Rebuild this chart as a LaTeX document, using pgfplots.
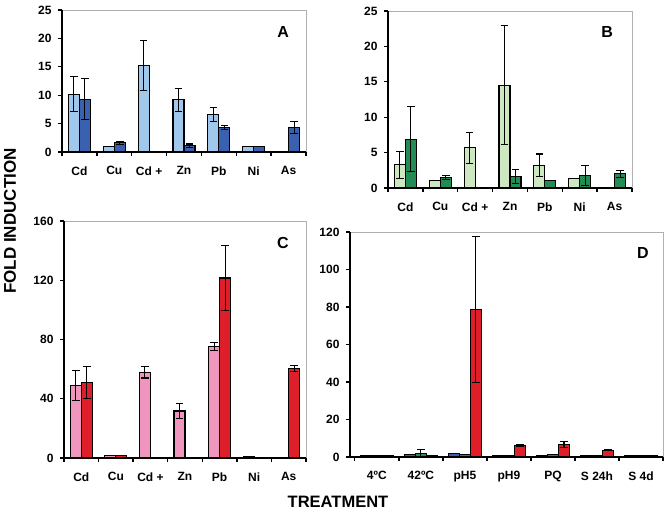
\documentclass[border=0pt]{standalone}
\usepackage{pgfplots}
\usepackage{pgfplotstable}
\pgfplotsset{compat=1.18}
\usepackage{fontspec}
\setmainfont{Liberation Sans}
\definecolor{lblue}{RGB}{160,200,236}
\definecolor{dblue}{RGB}{58,96,176}
\definecolor{lgreen}{RGB}{205,232,192}
\definecolor{dgreen}{RGB}{34,140,84}
\definecolor{lpink}{RGB}{240,150,190}
\definecolor{dred}{RGB}{222,30,40}
\definecolor{framegray}{RGB}{175,175,175}

\pgfplotstableread{
x light errL dark errD
0 10.2 3.1 9.3 3.6
1 1.0 0 1.6 0.3
2 15.2 4.4 nan 0
3 9.2 2.0 1.1 0.3
4 6.6 1.2 4.3 0.3
5 1.0 0 1.0 0
6 nan 0 4.3 1.1
}\tabA
\pgfplotstableread{
x light errL dark errD
0 3.3 1.9 6.9 4.6
1 1.1 0 1.5 0.3
2 5.7 2.2 nan 0
3 14.5 8.4 1.6 1.0
4 3.2 1.6 1.0 0
5 1.4 0 1.8 1.4
6 nan 0 2.0 0.5
}\tabB
\pgfplotstableread{
x light errL dark errD
0 49 9.9 51 11
1 1.8 0 1.6 0
2 58 4 nan 0
3 31.7 5 0.3 0
4 75.4 2.7 121.5 22
5 1.1 0 0.5 0
6 nan 0 60.3 2
}\tabC
\pgfplotstableread{
x blue errB green errG red errR
0 0.8 0 0.8 0 0.8 0
1 1.2 0 2.0 2.0 1.0 0
2 2.0 0 1.5 0 78.5 39
3 0.6 0 0.6 0 6.2 0.6
4 0.7 0 1.2 0 6.8 1.6
5 0.6 0 0.6 0 3.6 0.3
6 0.6 0 0.6 0 0.6 0
}\tabD

\pgfplotsset{
  panel/.style={
    scale only axis,
    anchor=south west,
    ybar=0pt,
    bar width=11pt,
    ymin=0,
    xmin=-0.5, xmax=6.5,
    axis line style={draw=none},
    xtick={-0.5,0.5,...,6.5},
    xticklabels={},
    extra x ticks={0,1,2,3,4,5,6},
    extra x tick style={major tick length=0pt, xticklabel style={yshift=-11pt}},
    tick style={black, line width=1.3pt},
    major tick length=4pt,
    tick align=outside,
    tick pos=left,
    ticklabel style={font=\bfseries\fontsize{12}{14}\selectfont},
    yticklabel style={xshift=-3pt},
    /pgf/number format/assume math mode=true,
    every axis plot/.append style={draw=black, line width=1.1pt},
    error bars/y dir=both,
    error bars/y explicit,
    error bars/error bar style={black, line width=1.1pt},
    error bars/error mark options={rotate=90, black, mark size=3.8pt, line width=1.1pt},
    clip=false,
  },
}
\newcommand{\panelframe}{%
  \draw[framegray, line width=0.6pt] (rel axis cs:0,1) -- (rel axis cs:1,1) -- (rel axis cs:1,0);
  \draw[black, line width=1.7pt] (rel axis cs:0,1) -- (rel axis cs:0,0) -- (rel axis cs:1,0);
}

\begin{document}
\begin{tikzpicture}
% Panel A
\begin{axis}[panel, at={(62pt,359pt)}, width=244pt, height=142pt,
  ymax=25, ytick={0,5,10,15,20,25},
  extra x tick labels={Cd,Cu,Cd +,Zn,Pb,Ni,As}]
\addplot[fill=lblue] table[x=x, y=light, y error=errL] {\tabA};
\addplot[fill=dblue] table[x=x, y=dark, y error=errD] {\tabA};
\panelframe
\node[font=\bfseries\fontsize{16}{18}\selectfont] at (rel axis cs:0.906,0.845) {A};
\end{axis}
% Panel B
\begin{axis}[panel, at={(388pt,323pt)}, width=244pt, height=177pt,
  ymax=25, ytick={0,5,10,15,20,25},
  extra x tick labels={Cd,Cu,Cd +,Zn,Pb,Ni,As}]
\addplot[fill=lgreen] table[x=x, y=light, y error=errL] {\tabB};
\addplot[fill=dgreen] table[x=x, y=dark, y error=errD] {\tabB};
\panelframe
\node[font=\bfseries\fontsize{16}{18}\selectfont] at (rel axis cs:0.898,0.881) {B};
\end{axis}
% Panel C
\begin{axis}[panel, at={(64pt,53pt)}, width=242pt, height=237pt,
  ymax=160, ytick={0,40,80,120,160},
  extra x tick labels={Cd,Cu,Cd +,Zn,Pb,Ni,As}]
\addplot[fill=lpink] table[x=x, y=light, y error=errL] {\tabC};
\addplot[fill=dred] table[x=x, y=dark, y error=errD] {\tabC};
\panelframe
\node[font=\bfseries\fontsize{16}{18}\selectfont] at (rel axis cs:0.905,0.907) {C};
\end{axis}
% Panel D
\begin{axis}[panel, at={(350pt,54pt)}, width=313pt, height=225pt,
  xmin=-0.61,
  ymax=120, ytick={0,20,40,60,80,100,120},
  extra x tick labels={4ºC,42ºC,pH5,pH9,PQ,S 24h,S 4d}]
\addplot[fill=dblue] table[x=x, y=blue, y error=errB] {\tabD};
\addplot[fill=dgreen] table[x=x, y=green, y error=errG] {\tabD};
\addplot[fill=dred] table[x=x, y=red, y error=errR] {\tabD};
\panelframe
\node[font=\bfseries\fontsize{16}{18}\selectfont] at (rel axis cs:0.936,0.907) {D};
\end{axis}
\node[rotate=90, font=\bfseries\fontsize{17}{19}\selectfont] at (10pt,290pt) {FOLD INDUCTION};
\node[font=\bfseries\fontsize{16.5}{18}\selectfont] at (338pt,9pt) {TREATMENT};
\pgfresetboundingbox
\useasboundingbox (0,0) rectangle (664pt,511pt);
\end{tikzpicture}
\end{document}
